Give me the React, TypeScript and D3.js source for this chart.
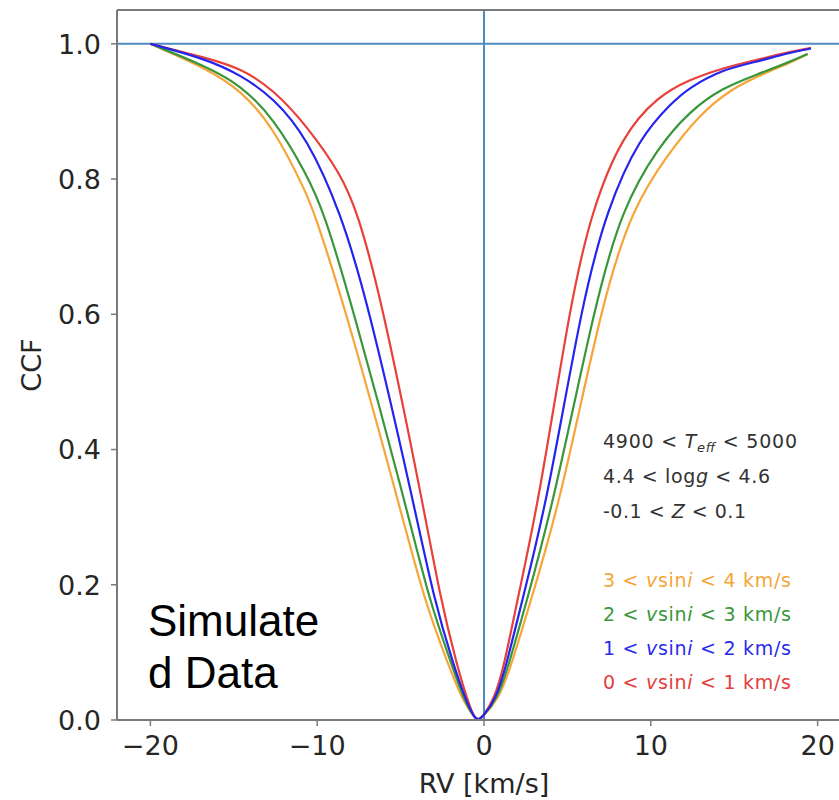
import React from "react";
import * as d3 from "d3";

// ---- data ----
const redRV = [-20, -16.6, -14.6, -12.6, -10.6, -8.6, -7.6, -6.2, -3.7, -2.6, -1.6, -1.0, -0.6, -0.35, -0.1, 0.6, 1.2, 2.0, 3.3, 5.2, 6.5, 8.3, 10.4, 12.3, 14.3, 16.3, 18.3, 19.6];
const redCCF = [1.0, 0.979, 0.964, 0.932, 0.878, 0.808, 0.752, 0.628, 0.325, 0.178, 0.079, 0.03, 0.004, 0.0, 0.004, 0.03, 0.079, 0.178, 0.325, 0.621, 0.757, 0.865, 0.922, 0.947, 0.964, 0.976, 0.988, 0.994];

const blueRV = [-20, -16.6, -14.6, -12.6, -10.6, -8.6, -7.0, -4.25, -3.0, -1.8, -1.1, -0.6, -0.35, -0.1, 0.7, 1.32, 2.3, 3.8, 5.9, 7.4, 9.3, 11.3, 12.3, 14.3, 16.3, 18.3, 19.6];
const blueCCF = [1.0, 0.977, 0.954, 0.92, 0.861, 0.751, 0.621, 0.325, 0.178, 0.079, 0.03, 0.004, 0.0, 0.004, 0.03, 0.079, 0.178, 0.325, 0.621, 0.757, 0.861, 0.914, 0.935, 0.962, 0.973, 0.987, 0.993];

const greenRV = [-20, -16.6, -14.6, -12.6, -10.6, -9.6, -8.0, -4.75, -3.3, -1.9, -1.2, -0.6, -0.35, -0.1, 0.78, 1.46, 2.58, 4.2, 6.7, 8.3, 10.4, 12.3, 14.3, 16.3, 18.3, 19.4];
const greenCCF = [1.0, 0.966, 0.939, 0.89, 0.806, 0.751, 0.621, 0.325, 0.178, 0.079, 0.03, 0.004, 0.0, 0.004, 0.03, 0.079, 0.178, 0.325, 0.621, 0.757, 0.846, 0.9, 0.935, 0.954, 0.973, 0.985];

const orangeRV = [-20, -16.6, -14.6, -12.6, -10.6, -10.2, -8.5, -5.15, -3.6, -2.1, -1.3, -0.6, -0.35, -0.1, 0.86, 1.62, 2.82, 4.6, 7.1, 8.9, 11.0, 12.9, 14.9, 16.9, 18.7, 19.4];
const orangeCCF = [1.0, 0.963, 0.932, 0.876, 0.777, 0.751, 0.625, 0.325, 0.178, 0.079, 0.03, 0.004, 0.0, 0.004, 0.03, 0.079, 0.178, 0.325, 0.621, 0.757, 0.836, 0.895, 0.935, 0.957, 0.976, 0.985];

const xTicks = [-20, -10, 0, 10, 20];
const xTickLabels = ["\u221220", "\u221210", "0", "10", "20"];
const yTicks = [0, 0.2, 0.4, 0.6, 0.8, 1.0];
const yTickLabels = ["0.0", "0.2", "0.4", "0.6", "0.8", "1.0"];

const vsiniLow = ["3", "2", "1", "0"];
const vsiniHigh = ["4", "3", "2", "1"];
const vsiniColors = ["#f5a53a", "#3a963a", "#2b2bea", "#e2403c"];

const series = [
  { rv: orangeRV, ccf: orangeCCF, color: "#f5a53a" },
  { rv: greenRV, ccf: greenCCF, color: "#3a963a" },
  { rv: redRV, ccf: redCCF, color: "#e8403a" },
  { rv: blueRV, ccf: blueCCF, color: "#2424ee" },
];

const W = 839;
const H = 800;
const LEFT = 117;
const RIGHT = 851;
const TOP = 10;
const BOTTOM = 720;

export default function App() {
  const x = d3.scaleLinear().domain([-22, 22]).range([LEFT, RIGHT]);
  const y = d3.scaleLinear().domain([0, 1.05]).range([BOTTOM, TOP]);
  const line = d3
    .line<[number, number]>()
    .x((d) => x(d[0]))
    .y((d) => y(d[1]))
    .curve(d3.curveBasis);

  const tickFont = "DejaVu Sans, sans-serif";
  const axisColor = "#7a7a7a";
  const refColor = "#4e8cc0";

  const annX = 603;
  const infoY = [448, 483, 518];
  const vY = [587, 621, 655, 689];
  const fs = 19;

  return (
    <svg
      width={W}
      height={H}
      style={{ position: "absolute", left: 0, top: 0, background: "#fff" }}
      fontFamily={tickFont}
    >
      <rect x={0} y={0} width={W} height={H} fill="#fff" />

      {/* reference lines */}
      <line x1={LEFT} x2={RIGHT} y1={y(1)} y2={y(1)} stroke={refColor} strokeWidth={2} />
      <line x1={x(0)} x2={x(0)} y1={TOP} y2={BOTTOM} stroke={refColor} strokeWidth={2} />

      {/* curves */}
      {series.map((s, i) => (
        <path
          key={i}
          d={line(s.rv.map((v, j) => [v, s.ccf[j]] as [number, number])) || ""}
          fill="none"
          stroke={s.color}
          strokeWidth={2.2}
          strokeLinejoin="round"
        />
      ))}

      {/* spines */}
      <line x1={LEFT} x2={RIGHT} y1={TOP} y2={TOP} stroke={axisColor} strokeWidth={2} />
      <line x1={LEFT} x2={RIGHT} y1={BOTTOM} y2={BOTTOM} stroke={axisColor} strokeWidth={2} />
      <line x1={LEFT} x2={LEFT} y1={TOP} y2={BOTTOM} stroke={axisColor} strokeWidth={2} />

      {/* y ticks */}
      {yTicks.map((t, i) => (
        <g key={"y" + i}>
          <line x1={LEFT - 6} x2={LEFT} y1={y(t)} y2={y(t)} stroke={axisColor} strokeWidth={1.5} />
          <text x={101} y={y(t) + 9.8} textAnchor="end" fontSize={27} fill="#262626">
            {yTickLabels[i]}
          </text>
        </g>
      ))}

      {/* x ticks */}
      {xTicks.map((t, i) => (
        <g key={"x" + i}>
          <line x1={x(t)} x2={x(t)} y1={BOTTOM} y2={BOTTOM + 6} stroke={axisColor} strokeWidth={1.5} />
          <text x={x(t)} y={755} textAnchor="middle" fontSize={27} fill="#262626">
            {xTickLabels[i]}
          </text>
        </g>
      ))}

      {/* axis labels */}
      <text x={484} y={793} textAnchor="middle" fontSize={27} fill="#262626">
        RV [km/s]
      </text>
      <text
        transform={`translate(41, ${(TOP + BOTTOM) / 2}) rotate(-90)`}
        textAnchor="middle"
        fontSize={27}
        fill="#262626"
      >
        CCF
      </text>

      {/* info annotations */}
      <text x={annX} y={infoY[0]} fontSize={fs} fill="#333" textLength={194} lengthAdjust="spacing">
        4900 &lt; <tspan fontStyle="italic">T</tspan>
        <tspan fontStyle="italic" fontSize={13} dy={4}>eff</tspan>
        <tspan dy={-4}> &lt; 5000</tspan>
      </text>
      <text x={annX} y={infoY[1]} fontSize={fs} fill="#333" textLength={167} lengthAdjust="spacing">
        4.4 &lt; log<tspan fontStyle="italic">g</tspan> &lt; 4.6
      </text>
      <text x={annX} y={infoY[2]} fontSize={fs} fill="#333" textLength={143} lengthAdjust="spacing">
        -0.1 &lt; <tspan fontStyle="italic">Z</tspan> &lt; 0.1
      </text>

      {vsiniLow.map((lo, i) => (
        <text
          key={"v" + i}
          x={annX}
          y={vY[i]}
          fontSize={fs}
          fill={vsiniColors[i]}
          textLength={188}
          lengthAdjust="spacing"
        >
          {lo} &lt; <tspan fontStyle="italic">v</tspan>sin<tspan fontStyle="italic">i</tspan> &lt; {vsiniHigh[i]} km/s
        </text>
      ))}

      {/* overlay text */}
      <text x={148} y={636} fontSize={44} fontFamily="Liberation Sans, Arial, sans-serif" fill="#000">
        Simulate
      </text>
      <text x={148} y={688} fontSize={44} fontFamily="Liberation Sans, Arial, sans-serif" fill="#000">
        d Data
      </text>
    </svg>
  );
}
